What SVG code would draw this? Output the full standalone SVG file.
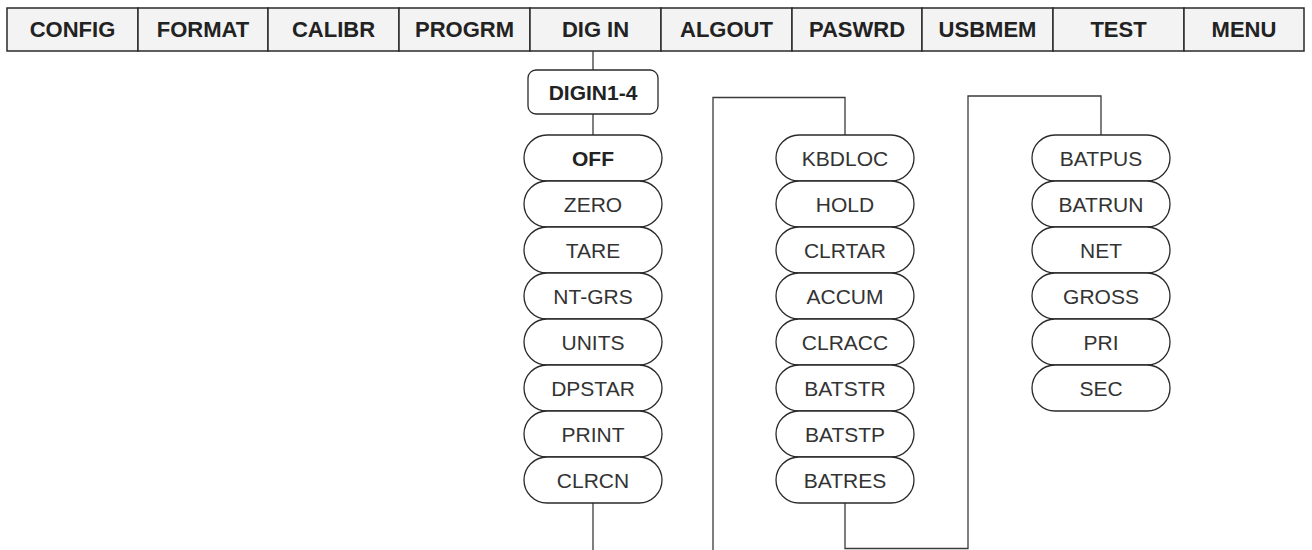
<svg xmlns="http://www.w3.org/2000/svg" width="1312" height="550" viewBox="0 0 1312 550">
<style>
.tab{fill:#f3f3f3;stroke:#2a2a2a;stroke-width:1.5}
.tabt{font-family:"Liberation Sans",Arial,sans-serif;font-weight:bold;font-size:22px;fill:#222;text-anchor:middle}
.pill{fill:#fff;stroke:#2a2a2a;stroke-width:1.3}
.pt{font-family:"Liberation Sans",Arial,sans-serif;font-size:21px;fill:#333;text-anchor:middle}
.bt{font-family:"Liberation Sans",Arial,sans-serif;font-weight:bold;font-size:21px;fill:#222;text-anchor:middle}
.conn{fill:none;stroke:#3a3a3a;stroke-width:1.3}
</style>
<rect width="1312" height="550" fill="#fff"/>
<g id="menubar">
<g id="tab-config"><rect class="tab" x="7" y="8" width="131" height="43"/><text class="tabt" x="72.5" y="37">CONFIG</text></g>
<g id="tab-format"><rect class="tab" x="138" y="8" width="130" height="43"/><text class="tabt" x="203" y="37">FORMAT</text></g>
<g id="tab-calibr"><rect class="tab" x="268" y="8" width="131" height="43"/><text class="tabt" x="333.5" y="37">CALIBR</text></g>
<g id="tab-progrm"><rect class="tab" x="399" y="8" width="131" height="43"/><text class="tabt" x="464.5" y="37">PROGRM</text></g>
<g id="tab-digin"><rect class="tab" x="530" y="8" width="131" height="43"/><text class="tabt" x="595.5" y="37">DIG IN</text></g>
<g id="tab-algout"><rect class="tab" x="661" y="8" width="131" height="43"/><text class="tabt" x="726.5" y="37">ALGOUT</text></g>
<g id="tab-paswrd"><rect class="tab" x="792" y="8" width="130" height="43"/><text class="tabt" x="857" y="37">PASWRD</text></g>
<g id="tab-usbmem"><rect class="tab" x="922" y="8" width="131" height="43"/><text class="tabt" x="987.5" y="37">USBMEM</text></g>
<g id="tab-test"><rect class="tab" x="1053" y="8" width="131" height="43"/><text class="tabt" x="1118.5" y="37">TEST</text></g>
<g id="tab-menu"><rect class="tab" x="1184" y="8" width="120" height="43"/><text class="tabt" x="1244" y="37">MENU</text></g>
</g>
<g id="connectors">
<path class="conn" d="M593,51 V70"/>
<path class="conn" d="M593,114 V135"/>
<path class="conn" d="M593,503 V550"/>
<path class="conn" d="M845,135 V97.5 H713 V550"/>
<path class="conn" d="M845,503 V548.5 H968 V96 H1101 V135"/>
</g>
<g id="digin1-4"><rect class="pill" x="528" y="70" width="130" height="44" rx="8"/><text class="bt" x="593" y="99.5">DIGIN1-4</text></g>
<g id="col1">
<g id="off"><rect class="pill" x="524" y="135" width="138" height="46" rx="23"/><text class="bt" x="593" y="165.5">OFF</text></g>
<g id="zero"><rect class="pill" x="524" y="181" width="138" height="46" rx="23"/><text class="pt" x="593" y="211.5">ZERO</text></g>
<g id="tare"><rect class="pill" x="524" y="227" width="138" height="46" rx="23"/><text class="pt" x="593" y="257.5">TARE</text></g>
<g id="nt-grs"><rect class="pill" x="524" y="273" width="138" height="46" rx="23"/><text class="pt" x="593" y="303.5">NT-GRS</text></g>
<g id="units"><rect class="pill" x="524" y="319" width="138" height="46" rx="23"/><text class="pt" x="593" y="349.5">UNITS</text></g>
<g id="dpstar"><rect class="pill" x="524" y="365" width="138" height="46" rx="23"/><text class="pt" x="593" y="395.5">DPSTAR</text></g>
<g id="print"><rect class="pill" x="524" y="411" width="138" height="46" rx="23"/><text class="pt" x="593" y="441.5">PRINT</text></g>
<g id="clrcn"><rect class="pill" x="524" y="457" width="138" height="46" rx="23"/><text class="pt" x="593" y="487.5">CLRCN</text></g>
</g>
<g id="col2">
<g id="kbdloc"><rect class="pill" x="776" y="135" width="138" height="46" rx="23"/><text class="pt" x="845" y="165.5">KBDLOC</text></g>
<g id="hold"><rect class="pill" x="776" y="181" width="138" height="46" rx="23"/><text class="pt" x="845" y="211.5">HOLD</text></g>
<g id="clrtar"><rect class="pill" x="776" y="227" width="138" height="46" rx="23"/><text class="pt" x="845" y="257.5">CLRTAR</text></g>
<g id="accum"><rect class="pill" x="776" y="273" width="138" height="46" rx="23"/><text class="pt" x="845" y="303.5">ACCUM</text></g>
<g id="clracc"><rect class="pill" x="776" y="319" width="138" height="46" rx="23"/><text class="pt" x="845" y="349.5">CLRACC</text></g>
<g id="batstr"><rect class="pill" x="776" y="365" width="138" height="46" rx="23"/><text class="pt" x="845" y="395.5">BATSTR</text></g>
<g id="batstp"><rect class="pill" x="776" y="411" width="138" height="46" rx="23"/><text class="pt" x="845" y="441.5">BATSTP</text></g>
<g id="batres"><rect class="pill" x="776" y="457" width="138" height="46" rx="23"/><text class="pt" x="845" y="487.5">BATRES</text></g>
</g>
<g id="col3">
<g id="batpus"><rect class="pill" x="1032" y="135" width="138" height="46" rx="23"/><text class="pt" x="1101" y="165.5">BATPUS</text></g>
<g id="batrun"><rect class="pill" x="1032" y="181" width="138" height="46" rx="23"/><text class="pt" x="1101" y="211.5">BATRUN</text></g>
<g id="net"><rect class="pill" x="1032" y="227" width="138" height="46" rx="23"/><text class="pt" x="1101" y="257.5">NET</text></g>
<g id="gross"><rect class="pill" x="1032" y="273" width="138" height="46" rx="23"/><text class="pt" x="1101" y="303.5">GROSS</text></g>
<g id="pri"><rect class="pill" x="1032" y="319" width="138" height="46" rx="23"/><text class="pt" x="1101" y="349.5">PRI</text></g>
<g id="sec"><rect class="pill" x="1032" y="365" width="138" height="46" rx="23"/><text class="pt" x="1101" y="395.5">SEC</text></g>
</g>
</svg>
